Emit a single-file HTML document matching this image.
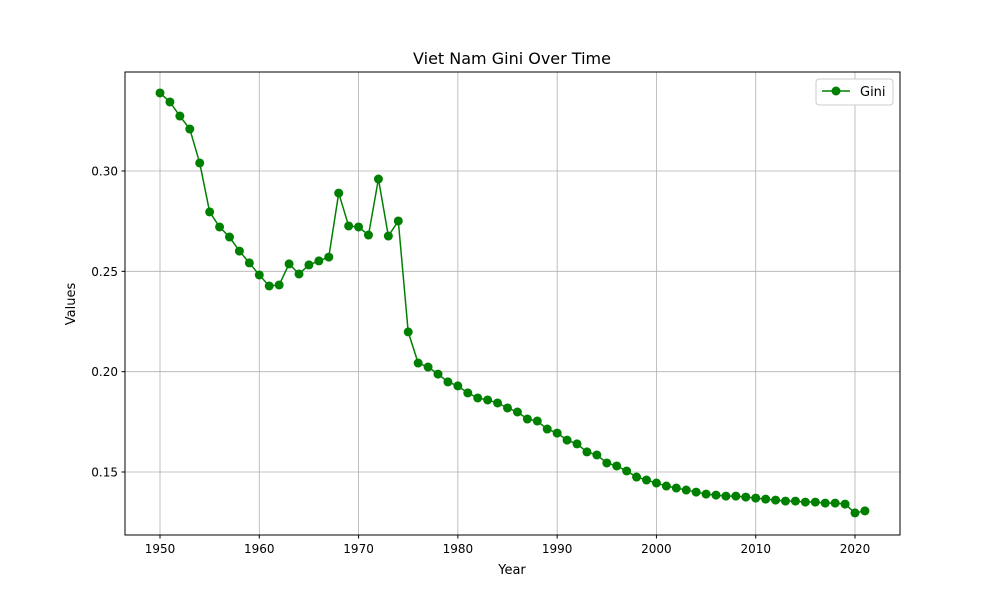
<!DOCTYPE html>
<html><head><meta charset="utf-8"><style>
body{margin:0;background:#fff;}
svg{display:block;font-family:"DejaVu Sans","Liberation Sans",sans-serif;}
</style></head><body>
<svg id="chart" width="1000" height="600" xmlns="http://www.w3.org/2000/svg">
<rect width="1000" height="600" fill="#fff"/>
<text x="512" y="64" font-size="16" text-anchor="middle">Viet Nam Gini Over Time</text>
<text x="512" y="574" font-size="13" text-anchor="middle">Year</text>
<text x="75" y="304" font-size="13" text-anchor="middle" transform="rotate(-90 75 304)">Values</text>
<g id="grid"></g><g id="series"></g>
<rect x="125" y="72" width="775" height="463" fill="none" stroke="#000" stroke-width="1"/>
<g>
<rect x="816" y="79" width="77" height="26" rx="3" fill="#fff" stroke="#ccc"/>
<line x1="822" y1="91" x2="850" y2="91" stroke="green" stroke-width="1.5"/>
<circle cx="836" cy="91" r="4.5" fill="green"/>
<text x="860" y="96" font-size="13">Gini</text>
</g>
</svg>
<script>
const years=[];for(let y=1950;y<=2021;y++)years.push(y);
const gini=[0.3389,0.3344,0.3274,0.3209,0.304,0.2796,0.2721,0.2671,0.2601,0.2542,0.2482,0.2427,0.2432,0.2537,0.2487,0.2532,0.2552,0.2571,0.289,0.2726,0.2721,0.2681,0.296,0.2676,0.2751,0.2198,0.2043,0.2023,0.1988,0.1949,0.1929,0.1894,0.1869,0.1859,0.1844,0.1819,0.1799,0.1764,0.1754,0.1714,0.1694,0.1659,0.164,0.16,0.1585,0.1545,0.153,0.1505,0.1475,0.146,0.1445,0.143,0.142,0.141,0.14,0.139,0.1385,0.138,0.138,0.1375,0.137,0.1365,0.136,0.1355,0.1355,0.135,0.135,0.1345,0.1345,0.134,0.1296,0.1306];
const xTicks=[1950,1960,1970,1980,1990,2000,2010,2020];
const yTicks=[0.15,0.20,0.25,0.30];
const yLabels=["0.15","0.20","0.25","0.30"];
const NS="http://www.w3.org/2000/svg";
const X=v=>160+(v-1950)*(855-160)/70;
const Y=v=>171+(0.30-v)*(472-171)/0.15;
function mk(t,a,p){const e=document.createElementNS(NS,t);for(const k in a)e.setAttribute(k,a[k]);p.appendChild(e);return e;}
const g=document.getElementById('grid'),s=document.getElementById('series');
xTicks.forEach(t=>{const x=X(t);
 const l=mk('line',{x1:x,x2:x,y1:72,y2:535,stroke:'#b0b0b0','stroke-width':0.8},g);
 
 
 mk('line',{x1:x,x2:x,y1:535,y2:538.5,stroke:'#000'},g);
 const tx=mk('text',{x:x,y:553,'font-size':12,'text-anchor':'middle'},g);tx.textContent=t;
 
 });
yTicks.forEach((t,i)=>{const y=Y(t);
 const l=mk('line',{x1:125,x2:900,y1:y,y2:y,stroke:'#b0b0b0','stroke-width':0.8},g);
 
 
 mk('line',{x1:121.5,x2:125,y1:y,y2:y,stroke:'#000'},g);
 const tx=mk('text',{x:118,y:y+4.5,'font-size':12,'text-anchor':'end'},g);tx.textContent=yLabels[i];
 
 });
const pl=mk('polyline',{points:years.map((y,i)=>X(y)+','+Y(gini[i])).join(' '),fill:'none',stroke:'green','stroke-width':1.5},s);


years.forEach((y,i)=>{const c=mk('circle',{cx:X(y),cy:Y(gini[i]),r:4.5,fill:'green'},s);
 
 });
</script>
</body></html>
